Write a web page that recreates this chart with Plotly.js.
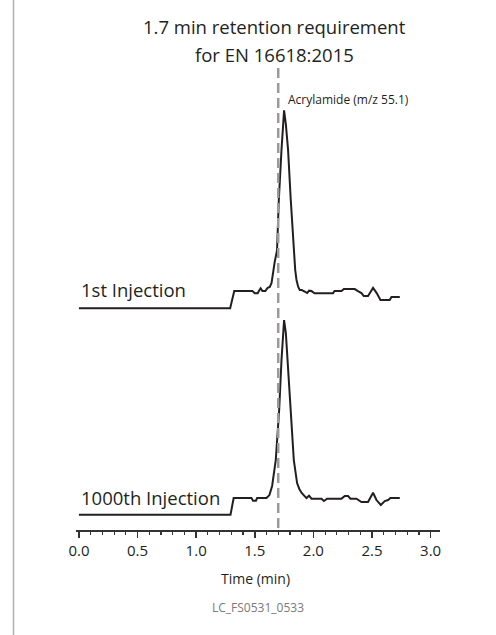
<!DOCTYPE html>
<html>
<head>
<meta charset="utf-8">
<script src="https://cdn.plot.ly/plotly-3.0.1.min.js"></script>
<style>
  html, body { margin: 0; padding: 0; background: #fff; }
  #chart { width: 496px; height: 635px; }
</style>
</head>
<body>
<div id="chart"></div>
<script>
// ---- Data ----
var timeFirst = [0, 1.29, 1.325, 1.48, 1.50, 1.525, 1.535, 1.55, 1.565, 1.59, 1.61, 1.628, 1.643, 1.655, 1.67, 1.69, 1.705, 1.728, 1.75, 1.765, 1.784, 1.807, 1.83, 1.845, 1.856, 1.87, 1.884, 1.90, 1.927, 1.947, 1.963, 1.984, 2.01, 2.168, 2.18, 2.24, 2.26, 2.353, 2.38, 2.41, 2.43, 2.466, 2.509, 2.54, 2.572, 2.651, 2.666, 2.737];
var signalFirst = [0, 0, 8.7, 8.7, 7.6, 7.6, 8.7, 10.1, 8.7, 8.7, 10.3, 10.8, 12.8, 17.8, 23.4, 29.4, 54.7, 80, 100, 93, 80, 54.7, 29.4, 19.3, 14.3, 10.9, 9.2, 9.2, 8.4, 7.7, 8.9, 8.7, 7.6, 7.6, 8.7, 8.7, 9.7, 9.7, 8.7, 7.7, 6.2, 6.2, 10.3, 7.7, 4.2, 4.2, 5.7, 5.7];

var timeThousandth = [0, 1.293, 1.32, 1.472, 1.485, 1.51, 1.52, 1.60, 1.625, 1.648, 1.679, 1.708, 1.728, 1.75, 1.765, 1.779, 1.805, 1.833, 1.861, 1.88, 1.90, 1.927, 1.941, 1.963, 1.984, 2.069, 2.09, 2.117, 2.24, 2.268, 2.296, 2.316, 2.367, 2.41, 2.466, 2.509, 2.538, 2.575, 2.609, 2.637, 2.657, 2.737];
var signalThousandth = [0, 0, 8.4, 8.4, 7.1, 7.1, 8.4, 8.4, 9.9, 14.5, 27.6, 52.9, 78.1, 98.3, 91.8, 78.1, 52.9, 27.6, 16, 13, 11, 9.4, 8.4, 9.6, 8.1, 8.1, 6.9, 8.1, 8.1, 9.4, 9.4, 8.1, 8.1, 6.4, 6.4, 11.1, 7.4, 4.9, 6.9, 7.4, 8.4, 8.4];

var tickValues = [0, 0.5, 1.0, 1.5, 2.0, 2.5, 3.0];
var tickLabels = ['0.0', '0.5', '1.0', '1.5', '2.0', '2.5', '3.0'];
var retentionRequirement = 1.7;
var seriesNames = ['1st Injection', '1000th Injection'];
var peakLabel = 'Acrylamide (m/z 55.1)';
var titleLines = ['1.7 min retention requirement', 'for EN 16618:2015'];
var xTitle = 'Time (min)';
var figureId = 'LC_FS0531_0533';

var FONT = '"Open Sans", "Liberation Sans", sans-serif';
var INK = '#231f20';

var traces = [
  {
    x: timeFirst, y: signalFirst, xaxis: 'x', yaxis: 'y2',
    type: 'scatter', mode: 'lines', name: seriesNames[0],
    line: { color: INK, width: 2, shape: 'linear' }, hoverinfo: 'x+y'
  },
  {
    x: timeThousandth, y: signalThousandth, xaxis: 'x', yaxis: 'y',
    type: 'scatter', mode: 'lines', name: seriesNames[1],
    line: { color: INK, width: 2, shape: 'linear' }, hoverinfo: 'x+y'
  }
];

var layout = {
  width: 496, height: 635,
  margin: { l: 76, r: 56, t: 68, b: 105 },
  paper_bgcolor: '#ffffff', plot_bgcolor: 'rgba(0,0,0,0)',
  showlegend: false,
  font: { family: FONT, color: INK },
  xaxis: {
    range: [-0.025, 3.08],
    tickvals: tickValues, ticktext: tickLabels,
    ticks: 'outside', ticklen: 6, tickwidth: 1.5, tickcolor: '#333',
    minor: { dtick: 0.1, tick0: 0, ticks: 'outside', ticklen: 3, tickwidth: 1.2, tickcolor: '#333', showgrid: false },
    showline: true, linecolor: '#333', linewidth: 1.5,
    showgrid: false, zeroline: false,
    tickfont: { family: FONT, size: 15, color: INK },
    fixedrange: true
  },
  yaxis: {
    domain: [0, 0.5], range: [-7.73, 108.94],
    visible: false, showgrid: false, zeroline: false, fixedrange: true
  },
  yaxis2: {
    domain: [0.4, 1], range: [-18.64, 121.36],
    visible: false, showgrid: false, zeroline: false, fixedrange: true
  },
  shapes: [
    {
      type: 'line', xref: 'x', yref: 'paper',
      x0: retentionRequirement, x1: retentionRequirement, y0: 1, y1: 0.004,
      line: { color: '#9a9a9a', width: 2.5, dash: '10px,5px' }
    },
    {
      type: 'line', xref: 'paper', yref: 'paper',
      x0: -0.1717, x1: -0.1717, y0: 1.15, y1: -0.23,
      line: { color: '#b0b0b0', width: 1.5 }
    }
  ],
  annotations: [
    { text: titleLines[0], xref: 'paper', yref: 'paper', x: 0.545, y: 1.0909,
      xanchor: 'center', yanchor: 'middle', showarrow: false,
      font: { family: FONT, size: 18.5, color: INK } },
    { text: titleLines[1], xref: 'paper', yref: 'paper', x: 0.545, y: 1.0299,
      xanchor: 'center', yanchor: 'middle', showarrow: false,
      font: { family: FONT, size: 18.5, color: INK } },
    { text: peakLabel, xref: 'x', yref: 'paper', x: 1.765, y: 0.9318,
      xanchor: 'left', yanchor: 'middle', showarrow: false,
      font: { family: FONT, size: 12, color: INK } },
    { text: seriesNames[0], xref: 'x', yref: 'paper', x: 0, y: 0.5195,
      xanchor: 'left', yanchor: 'middle', showarrow: false,
      font: { family: FONT, size: 18.5, color: INK } },
    { text: seriesNames[1], xref: 'x', yref: 'paper', x: 0, y: 0.0693,
      xanchor: 'left', yanchor: 'middle', showarrow: false,
      font: { family: FONT, size: 18.5, color: INK } },
    { text: xTitle, xref: 'x', yref: 'paper', x: 1.509, y: -0.106,
      xanchor: 'center', yanchor: 'middle', showarrow: false,
      font: { family: FONT, size: 14, color: INK } },
    { text: figureId, xref: 'x', yref: 'paper', x: 1.525, y: -0.1667,
      xanchor: 'center', yanchor: 'middle', showarrow: false,
      font: { family: FONT, size: 12, color: '#7a7a7a' } }
  ]
};

Plotly.newPlot('chart', traces, layout, { displayModeBar: false, staticPlot: true });
</script>
</body>
</html>
